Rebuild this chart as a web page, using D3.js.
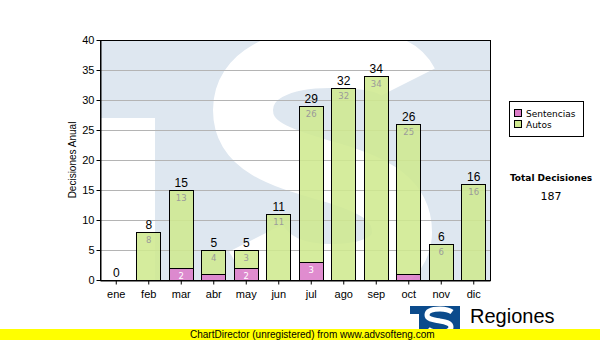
<!DOCTYPE html>
<html>
<head>
<meta charset="utf-8">
<script src="https://cdn.jsdelivr.net/npm/d3@7"></script>
<style>
  html, body { margin: 0; padding: 0; background: #fff; }
  svg { display: block; font-family: "Liberation Sans", Arial, sans-serif; }
</style>
</head>
<body>
<svg id="chart" width="600" height="340"></svg>
<script>
// Monthly decisions, split by type
const months = ["ene", "feb", "mar", "abr", "may", "jun", "jul", "ago", "sep", "oct", "nov", "dic"];
const sentencias = [0, 0, 2, 1, 2, 0, 3, 0, 0, 1, 0, 0];
const autos = [0, 8, 13, 4, 3, 11, 26, 32, 34, 25, 6, 16];
const yTicks = [0, 5, 10, 15, 20, 25, 30, 35, 40];
const seriesNames = ["Sentencias", "Autos"];
const seriesColors = ["#dc7cc8", "#cfe98f"];

const svg = d3.select("#chart");
const plot = { left: 100, top: 40, right: 490, bottom: 280 };

const x = d3.scaleBand().domain(months).range([plot.left, plot.right]).paddingInner(0.26).paddingOuter(0.13);
const y = d3.scaleLinear().domain([0, 40]).range([plot.bottom, plot.top]);

const rows = months.map((m, i) => ({ month: m, Sentencias: sentencias[i], Autos: autos[i] }));
const stacked = d3.stack().keys(seriesNames)(rows);
const totals = months.map((m, i) => sentencias[i] + autos[i]);
const grandTotal = d3.sum(totals);

// Plot background with faint "TS" logo watermark
const defs = svg.append("defs");
defs.append("clipPath").attr("id", "plotClip")
  .append("rect")
  .attr("x", plot.left).attr("y", plot.top)
  .attr("width", plot.right - plot.left).attr("height", plot.bottom - plot.top);

const wm = svg.append("g").attr("clip-path", "url(#plotClip)");
wm.append("rect")
  .attr("x", plot.left).attr("y", plot.top)
  .attr("width", plot.right - plot.left).attr("height", plot.bottom - plot.top)
  .attr("fill", "#dee7f0");
wm.append("rect")
  .attr("x", plot.left).attr("y", 118)
  .attr("width", 55).attr("height", plot.bottom - 118)
  .attr("fill", "#ffffff");
wm.append("path")
  .attr("d", "M 408 82 C 398 62, 368 58, 330 58 C 280 58, 243 75, 243 110 " +
             "C 243 150, 290 160, 330 172 C 375 185, 402 200, 402 232 " +
             "C 402 262, 370 274, 330 274 C 295 274, 268 262, 256 238")
  .attr("fill", "none")
  .attr("stroke", "#ffffff")
  .attr("stroke-width", 60);

// Horizontal grid lines
svg.append("g").selectAll("line")
  .data(yTicks.filter(t => t > 0 && t < 40))
  .join("line")
  .attr("x1", plot.left).attr("x2", plot.right)
  .attr("y1", d => y(d)).attr("y2", d => y(d))
  .attr("stroke", "#b4b4b4").attr("stroke-width", 1)
  .attr("shape-rendering", "crispEdges");

// Stacked bars
const layers = svg.append("g").selectAll("g")
  .data(stacked)
  .join("g")
  .attr("fill", (d, i) => seriesColors[i]);

layers.selectAll("rect")
  .data(d => d.filter(s => s[1] - s[0] > 0))
  .join("rect")
  .attr("x", d => x(d.data.month))
  .attr("y", d => y(d[1]))
  .attr("width", x.bandwidth())
  .attr("height", d => y(d[0]) - y(d[1]))
  .attr("fill-opacity", 0.88)
  .attr("stroke", "#000").attr("stroke-width", 1)
  .attr("shape-rendering", "crispEdges");

// Segment value labels
stacked.forEach((layer, li) => {
  svg.append("g").selectAll("text")
    .data(layer.filter(s => y(s[0]) - y(s[1]) >= 10))
    .join("text")
    .attr("x", d => x(d.data.month) + x.bandwidth() / 2)
    .attr("y", d => y(d[1]) + 8)
    .attr("dy", "0.35em")
    .attr("text-anchor", "middle")
    .attr("font-family", "DejaVu Sans")
    .attr("font-size", 8.5)
    .attr("fill", li === 0 ? "#ffffff" : "#9a9a9a")
    .text(d => d[1] - d[0]);
});

// Bar totals
svg.append("g").selectAll("text")
  .data(months)
  .join("text")
  .attr("x", m => x(m) + x.bandwidth() / 2)
  .attr("y", (m, i) => y(totals[i]) - 3)
  .attr("text-anchor", "middle")
  .attr("font-size", 12)
  .attr("fill", "#000")
  .text((m, i) => totals[i]);

// Plot frame
svg.append("rect")
  .attr("x", plot.left + 0.5).attr("y", plot.top + 0.5)
  .attr("width", plot.right - plot.left).attr("height", plot.bottom - plot.top)
  .attr("fill", "none").attr("stroke", "#000");

// Axes
const xAxis = svg.append("g")
  .attr("transform", `translate(0,${plot.bottom + 0.5})`)
  .call(d3.axisBottom(x).tickSize(4).tickSizeOuter(0));
xAxis.select(".domain").attr("stroke", "#000");
xAxis.selectAll("text").attr("font-size", 11).attr("font-family", "Liberation Sans, Arial, sans-serif").attr("fill", "#000").attr("dy", "0.95em");

const yAxis = svg.append("g")
  .attr("transform", `translate(${plot.left + 0.5},0)`)
  .call(d3.axisLeft(y).tickValues(yTicks).tickSize(4).tickSizeOuter(0).tickPadding(2));
yAxis.select(".domain").attr("stroke", "#000");
yAxis.selectAll("text").attr("font-size", 11).attr("font-family", "Liberation Sans, Arial, sans-serif").attr("fill", "#000");

svg.append("text")
  .attr("transform", "translate(76,160) rotate(-90)")
  .attr("text-anchor", "middle")
  .attr("font-size", 10)
  .text("Decisiones Anual");

// Legend
const legend = svg.append("g");
legend.append("rect")
  .attr("x", 509.5).attr("y", 101.5).attr("width", 74).attr("height", 35)
  .attr("fill", "#fff").attr("stroke", "#000");
seriesNames.forEach((name, i) => {
  legend.append("rect")
    .attr("x", 514.5).attr("y", 109.5 + i * 11).attr("width", 7).attr("height", 7)
    .attr("fill", seriesColors[i]).attr("stroke", "#000");
  legend.append("text")
    .attr("x", 526).attr("y", 117 + i * 11)
    .attr("font-family", "DejaVu Sans")
    .attr("font-size", 9)
    .text(name);
});

// Summary
svg.append("text")
  .attr("x", 551).attr("y", 181)
  .attr("text-anchor", "middle")
  .attr("font-family", "DejaVu Sans")
  .attr("font-weight", "bold")
  .attr("font-size", 9)
  .text("Total Decisiones");
svg.append("text")
  .attr("x", 551).attr("y", 200)
  .attr("text-anchor", "middle")
  .attr("font-family", "DejaVu Sans")
  .attr("font-size", 11)
  .text(grandTotal);

// Footer logo
const logo = svg.append("g");
logo.append("rect").attr("x", 410).attr("y", 306).attr("width", 50).attr("height", 26).attr("fill", "#0b4b8c");
logo.append("rect").attr("x", 410).attr("y", 314).attr("width", 9).attr("height", 18).attr("fill", "#fff");
logo.append("path")
  .attr("d", "M 452 312 C 448 309, 444 309, 440 309 C 432 309, 427 311, 427 315 " +
             "C 427 320, 436 320, 440 321 C 446 322, 451 323, 451 327 C 451 331, 446 332, 440 332 C 434 332, 430 331, 428 329")
  .attr("fill", "none")
  .attr("stroke", "#fff")
  .attr("stroke-width", 5);
logo.append("text")
  .attr("x", 470).attr("y", 323)
  .attr("font-size", 20)
  .attr("fill", "#000")
  .text("Regiones");
logo.append("text")
  .attr("x", 466).attr("y", 339)
  .attr("font-size", 12)
  .attr("fill", "#000")
  .text("Tribunal Supremo de Justicia");

// Footer banner
svg.append("rect").attr("x", 0).attr("y", 329).attr("width", 600).attr("height", 11).attr("fill", "#ffff00");
svg.append("text")
  .attr("x", 190).attr("y", 338)
  .attr("font-size", 10)
  .attr("fill", "#000")
  .text("ChartDirector (unregistered) from www.advsofteng.com");
</script>
</body>
</html>
